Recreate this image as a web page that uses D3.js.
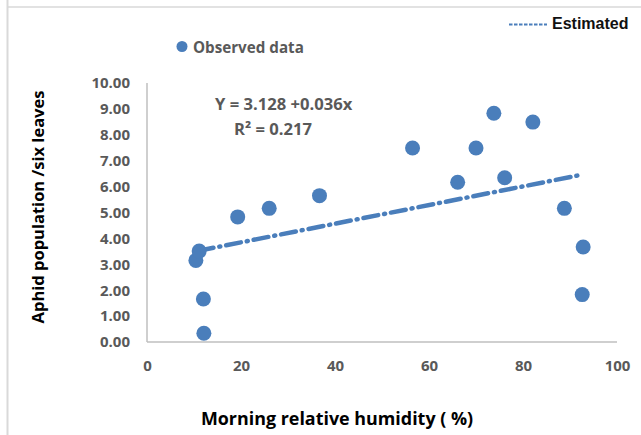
<!DOCTYPE html>
<html><head><meta charset="utf-8">
<script src="https://cdn.jsdelivr.net/npm/d3@7"></script>
<style>body{margin:0;background:#fff}svg{display:block}</style>
</head><body>
<svg id="c" width="641" height="435"></svg>
<script>
const humidity = [10.4, 11.1, 12.0, 12.1, 19.3, 26.0, 36.7, 56.5, 66.1, 70.0, 73.8, 76.1, 82.1, 88.8, 92.8, 92.6];
const aphids   = [3.15, 3.51, 1.66, 0.34, 4.83, 5.16, 5.65, 7.49, 6.17, 7.49, 8.83, 6.34, 8.49, 5.16, 3.67, 1.83];
const trendX = [11, 92.7];
const intercept = 3.128, slope = 0.036;
const xTicks = [0, 20, 40, 60, 80, 100];
const yTicks = [0,1,2,3,4,5,6,7,8,9,10];

const svg = d3.select('#c');
const blue = '#4a7ebb';
const gray = '#595959';
const font = '"Open Sans", sans-serif';

// frame
svg.append('line').attr('x1',7.5).attr('x2',7.5).attr('y1',0).attr('y2',435).attr('stroke','#d9d9d9').attr('stroke-width',2);
svg.append('line').attr('x1',8).attr('x2',641).attr('y1',7).attr('y2',7).attr('stroke','#d9d9d9').attr('stroke-width',1.5);

const x = d3.scaleLinear().domain([0,100]).range([147,617]);
const y = d3.scaleLinear().domain([0,10]).range([342,83]);

// axes lines
svg.append('line').attr('x1',x(0)).attr('x2',x(100)).attr('y1',y(0)).attr('y2',y(0)).attr('stroke','#bfbfbf').attr('stroke-width',1.5);
svg.append('line').attr('x1',x(0)).attr('x2',x(0)).attr('y1',y(0)).attr('y2',y(10)).attr('stroke','#bfbfbf').attr('stroke-width',1.5);

const xa = svg.append('g').attr('transform',`translate(0,${y(0)})`).call(d3.axisBottom(x).tickValues(xTicks).tickSize(0).tickPadding(18).tickFormat(d3.format('d')));
xa.select('.domain').remove();
xa.selectAll('text').attr('font-family',font).attr('font-weight','bold').attr('font-size',15).attr('fill',gray);

const ya = svg.append('g').attr('transform',`translate(${x(0)},0)`).call(d3.axisLeft(y).tickValues(yTicks).tickSize(0).tickPadding(17).tickFormat(d3.format('.2f')));
ya.select('.domain').remove();
ya.selectAll('text').attr('font-family',font).attr('font-weight','bold').attr('font-size',15).attr('fill',gray);

// trend line
const line = d3.line().x(d=>x(d)).y(d=>y(intercept+slope*d));
svg.append('path').datum(trendX).attr('d',line).attr('fill','none').attr('stroke',blue)
  .attr('stroke-width',4.5).attr('stroke-linecap','round').attr('stroke-dasharray','15 6 1 6');

// points
svg.selectAll('circle.p').data(humidity.map((h,i)=>[h,aphids[i]])).enter().append('circle')
  .attr('class','p').attr('cx',d=>x(d[0])).attr('cy',d=>y(d[1])).attr('r',7.5).attr('fill',blue);

// equation
svg.append('text').attr('x',215).attr('y',110).attr('font-family',font).attr('font-weight','bold').attr('font-size',16.6).attr('fill',gray).text('Y = 3.128 +0.036x');
svg.append('text').attr('x',234).attr('y',135).attr('font-family',font).attr('font-weight','bold').attr('font-size',16.6).attr('fill',gray).text('R² = 0.217');

// legends
svg.append('circle').attr('cx',182).attr('cy',46.5).attr('r',5.5).attr('fill',blue);
svg.append('text').attr('x',193).attr('y',52.5).attr('font-family',font).attr('font-weight','bold').attr('font-size',15.2).attr('fill',gray).text('Observed data');
svg.append('line').attr('x1',509).attr('x2',547).attr('y1',24.5).attr('y2',24.5).attr('stroke',blue).attr('stroke-width',2).attr('stroke-dasharray','3.5 1.5');
svg.append('text').attr('x',552).attr('y',29).attr('font-family','"Liberation Sans", Arial, sans-serif').attr('font-weight','bold').attr('font-size',16).attr('fill','#111').text('Estimated');

// axis titles
svg.append('text').attr('x',337).attr('y',425).attr('text-anchor','middle').attr('font-family',font).attr('font-weight','bold').attr('font-size',17.9).attr('fill','#000').text('Morning relative humidity ( %)');
svg.append('text').attr('transform','translate(44,207) rotate(-90)').attr('text-anchor','middle').attr('font-family',font).attr('font-weight','bold').attr('font-size',16.5).attr('fill','#000').text('Aphid population /six leaves');
</script>
</body></html>
